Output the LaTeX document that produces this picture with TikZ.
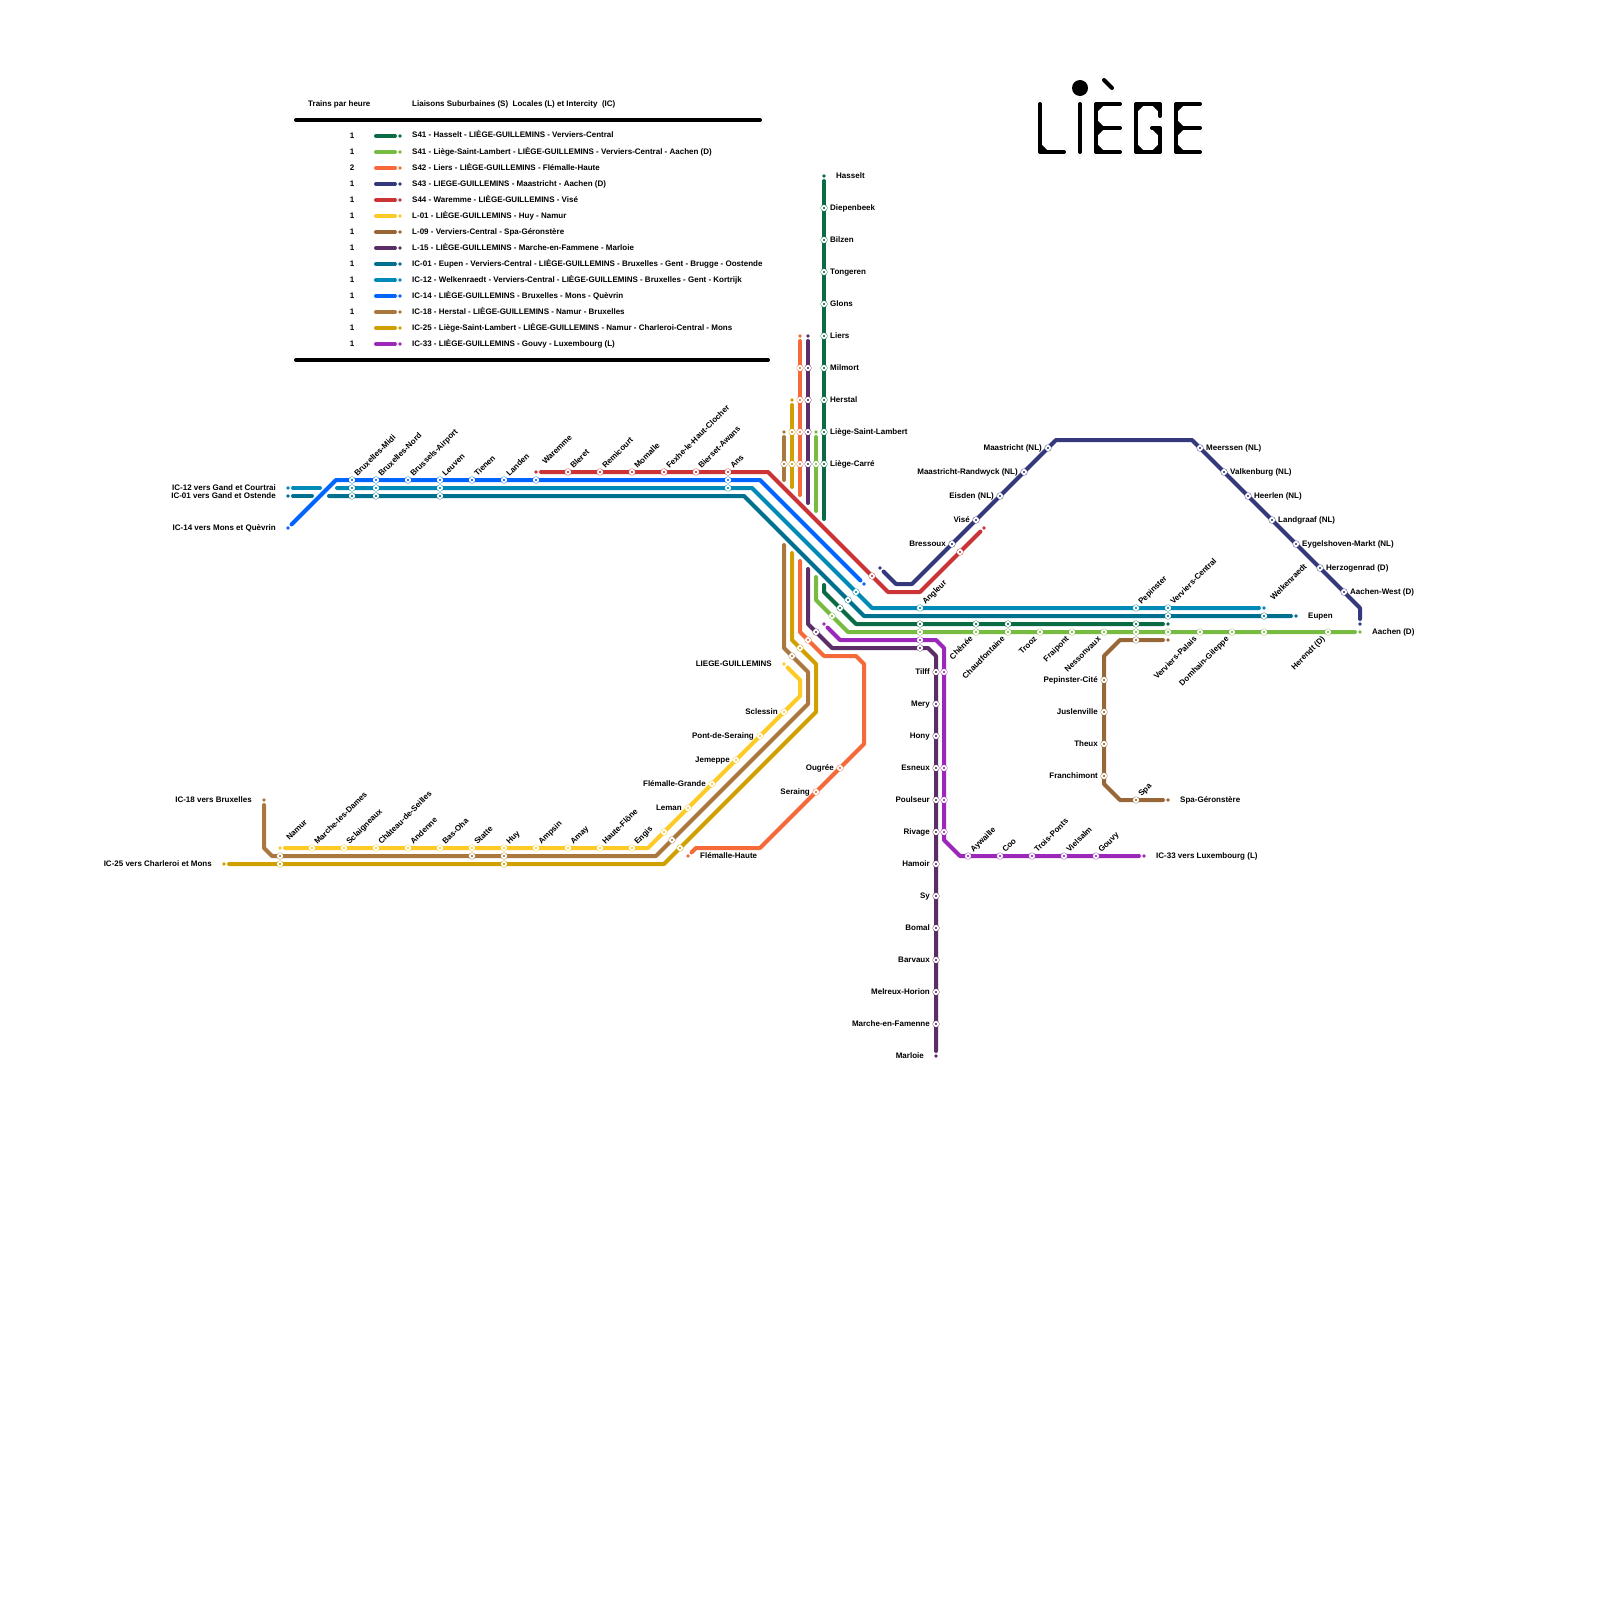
\documentclass[tikz,border=0pt]{standalone}
\usepackage{fontspec}
\setmainfont{Liberation Sans}
\usetikzlibrary{backgrounds}

\definecolor{sfourone}{HTML}{0B6B45}
\definecolor{sfourlime}{HTML}{77BB41}
\definecolor{sfourtwo}{HTML}{F56A38}
\definecolor{sfourthree}{HTML}{33397C}
\definecolor{sfourfour}{HTML}{CB3337}
\definecolor{lzeroone}{HTML}{FECB26}
\definecolor{lzeronine}{HTML}{996638}
\definecolor{lonefive}{HTML}{5C2E68}
\definecolor{iczeroone}{HTML}{00708F}
\definecolor{iconetwo}{HTML}{008AB5}
\definecolor{iconefour}{HTML}{0064FE}
\definecolor{iconeeight}{HTML}{AA783F}
\definecolor{ictwofive}{HTML}{D0A000}
\definecolor{icthreethree}{HTML}{9B28BA}

\newcommand{\mapfont}{\fontsize{8}{9.6}\selectfont\bfseries}

\tikzset{
  stn/.style={circle,inner sep=0pt,minimum size=4.2pt,fill=#1,draw=white,line width=1.8pt,preaction={draw=#1,line width=2.6pt}},
  endpt/.style={circle,inner sep=0pt,minimum size=3.6pt,fill=#1,outer sep=3.2pt},
  lne/.style={draw=#1,line width=4pt,line cap=round,line join=round},
  rule/.style={draw=black,line width=4pt,line cap=round},
  glyph/.style={draw=black,line width=4pt,line cap=round,line join=round},
  chamfer/.style={draw=black,fill=black,line width=1.6pt,line join=round},
  txt/.style={inner sep=0pt,font=\mapfont,text=black},
  txtlft/.style={txt,anchor=base west},
  lab/.style={txt,text height=5.8pt,text depth=1.7pt},
  nameR/.style={label={[lab,xshift=3pt,yshift=-.3pt]right:#1}},
  nameL/.style={label={[lab,xshift=-3pt,yshift=-.3pt]left:#1}},
  farR/.style={label={[lab,xshift=7pt,yshift=-.3pt]right:#1}},
  farL/.style={label={[lab,xshift=-7pt,yshift=-.3pt]left:#1}},
  nameU/.style={label={[lab,shift={(1.05pt,4.45pt)},rotate=45]right:#1}},
  farU/.style={label={[lab,shift={(3pt,8.45pt)},rotate=45]right:#1}},
  nameD/.style={label={[lab,shift={(-1pt,-6pt)},rotate=45]left:#1}},
}

\begin{document}
\begin{tikzpicture}[x=1pt,y=-1pt]
\useasboundingbox (0,0) rectangle (1600,1600);

% legend
\node[txtlft] (headA) at (308,106.5) {Trains par heure};
\node[txtlft] (headB) at (412,106.5) {Liaisons Suburbaines (S)~ Locales (L) et Intercity~ (IC)};
\coordinate (ruleA) at (296,120); \coordinate (ruleB) at (760,120);
\coordinate (ruleC) at (296,360); \coordinate (ruleD) at (768,360);
\draw[rule] (ruleA) -- (ruleB);
\draw[rule] (ruleC) -- (ruleD);

\node[txt] (numA) at (352,135.5) {1}; \coordinate (swA) at (376,136); \node[endpt=sfourone] (swEndA) at (400,136) {}; \draw[lne=sfourone] (swA) -- (swEndA);
\node[txtlft] (legA) at (412,138) {S41 - Hasselt - LIÈGE-GUILLEMINS - Verviers-Central};
\node[txt] (numB) at (352,151.5) {1}; \coordinate (swB) at (376,152); \node[endpt=sfourlime] (swEndB) at (400,152) {}; \draw[lne=sfourlime] (swB) -- (swEndB);
\node[txtlft] (legB) at (412,154) {S41 - Liège-Saint-Lambert - LIÈGE-GUILLEMINS - Verviers-Central - Aachen (D)};
\node[txt] (numC) at (352,167.5) {2}; \coordinate (swC) at (376,168); \node[endpt=sfourtwo] (swEndC) at (400,168) {}; \draw[lne=sfourtwo] (swC) -- (swEndC);
\node[txtlft] (legC) at (412,170) {S42 - Liers - LIÈGE-GUILLEMINS - Flémalle-Haute};
\node[txt] (numD) at (352,183.5) {1}; \coordinate (swD) at (376,184); \node[endpt=sfourthree] (swEndD) at (400,184) {}; \draw[lne=sfourthree] (swD) -- (swEndD);
\node[txtlft] (legD) at (412,186) {S43 - LIEGE-GUILLEMINS - Maastricht - Aachen (D)};
\node[txt] (numE) at (352,199.5) {1}; \coordinate (swE) at (376,200); \node[endpt=sfourfour] (swEndE) at (400,200) {}; \draw[lne=sfourfour] (swE) -- (swEndE);
\node[txtlft] (legE) at (412,202) {S44 - Waremme - LIÈGE-GUILLEMINS - Visé};
\node[txt] (numF) at (352,215.5) {1}; \coordinate (swF) at (376,216); \node[endpt=lzeroone] (swEndF) at (400,216) {}; \draw[lne=lzeroone] (swF) -- (swEndF);
\node[txtlft] (legF) at (412,218) {L-01 - LIÈGE-GUILLEMINS - Huy - Namur};
\node[txt] (numG) at (352,231.5) {1}; \coordinate (swG) at (376,232); \node[endpt=lzeronine] (swEndG) at (400,232) {}; \draw[lne=lzeronine] (swG) -- (swEndG);
\node[txtlft] (legG) at (412,234) {L-09 - Verviers-Central - Spa-Géronstère};
\node[txt] (numH) at (352,247.5) {1}; \coordinate (swH) at (376,248); \node[endpt=lonefive] (swEndH) at (400,248) {}; \draw[lne=lonefive] (swH) -- (swEndH);
\node[txtlft] (legH) at (412,250) {L-15 - LIÈGE-GUILLEMINS - Marche-en-Fammene - Marloie};
\node[txt] (numI) at (352,263.5) {1}; \coordinate (swI) at (376,264); \node[endpt=iczeroone] (swEndI) at (400,264) {}; \draw[lne=iczeroone] (swI) -- (swEndI);
\node[txtlft] (legI) at (412,266) {IC-01 - Eupen - Verviers-Central - LIÈGE-GUILLEMINS - Bruxelles - Gent - Brugge - Oostende};
\node[txt] (numJ) at (352,279.5) {1}; \coordinate (swJ) at (376,280); \node[endpt=iconetwo] (swEndJ) at (400,280) {}; \draw[lne=iconetwo] (swJ) -- (swEndJ);
\node[txtlft] (legJ) at (412,282) {IC-12 - Welkenraedt - Verviers-Central - LIÈGE-GUILLEMINS - Bruxelles - Gent - Kortrijk};
\node[txt] (numK) at (352,295.5) {1}; \coordinate (swK) at (376,296); \node[endpt=iconefour] (swEndK) at (400,296) {}; \draw[lne=iconefour] (swK) -- (swEndK);
\node[txtlft] (legK) at (412,298) {IC-14 - LIÈGE-GUILLEMINS - Bruxelles - Mons - Quèvrin};
\node[txt] (numL) at (352,311.5) {1}; \coordinate (swL) at (376,312); \node[endpt=iconeeight] (swEndL) at (400,312) {}; \draw[lne=iconeeight] (swL) -- (swEndL);
\node[txtlft] (legL) at (412,314) {IC-18 - Herstal - LIÈGE-GUILLEMINS - Namur - Bruxelles};
\node[txt] (numM) at (352,327.5) {1}; \coordinate (swM) at (376,328); \node[endpt=ictwofive] (swEndM) at (400,328) {}; \draw[lne=ictwofive] (swM) -- (swEndM);
\node[txtlft] (legM) at (412,330) {IC-25 - Liège-Saint-Lambert - LIÈGE-GUILLEMINS - Namur - Charleroi-Central - Mons};
\node[txt] (numN) at (352,343.5) {1}; \coordinate (swN) at (376,344); \node[endpt=icthreethree] (swEndN) at (400,344) {}; \draw[lne=icthreethree] (swN) -- (swEndN);
\node[txtlft] (legN) at (412,346) {IC-33 - LIÈGE-GUILLEMINS - Gouvy - Luxembourg (L)};

% title
\fill (1080,88) circle (8); % dot of the I
\draw[glyph] (1104,80) -- (1112,88); % accent
\draw[glyph] (1040,104) -- (1040,152) -- (1064,152); % L
\draw[chamfer] (1040,144) -- (1048,152) -- (1040,152) -- cycle;
\draw[glyph] (1080,104) -- (1080,152); % I
\foreach \ex in {1096,1176} { % E
  \draw[glyph] (\ex+24,104) -- (\ex,104) -- (\ex,152) -- (\ex+24,152);
  \draw[glyph] (\ex,128) -- (\ex+24,128);
  \draw[chamfer] (\ex,104) -- (\ex+8,104) -- (\ex,112) -- cycle;
  \draw[chamfer] (\ex,120) -- (\ex+8,128) -- (\ex,136) -- cycle;
  \draw[chamfer] (\ex,144) -- (\ex+8,152) -- (\ex,152) -- cycle;
}
\draw[glyph] (1160,116) -- (1160,104) -- (1136,104) -- (1136,152) -- (1160,152) -- (1160,128) -- (1152,128); % G
\draw[chamfer] (1136,104) -- (1144,104) -- (1136,112) -- cycle;
\draw[chamfer] (1136,144) -- (1144,152) -- (1136,152) -- cycle;
\draw[chamfer] (1152,104) -- (1160,104) -- (1160,112) -- cycle;
\draw[chamfer] (1152,152) -- (1160,152) -- (1160,144) -- cycle;
\draw[chamfer] (1152,128) -- (1160,128) -- (1160,136) -- cycle;

% S41 Hasselt
\node[endpt=sfourone,farR=Hasselt] (dgHasselt) at (824,176) {};
\node[stn=sfourone,nameR=Diepenbeek] (dgDiepenbeek) at (824,208) {};
\node[stn=sfourone,nameR=Bilzen] (dgBilzen) at (824,240) {};
\node[stn=sfourone,nameR=Tongeren] (dgTongeren) at (824,272) {};
\node[stn=sfourone,nameR=Glons] (dgGlons) at (824,304) {};
\node[stn=sfourone,nameR=Liers] (dgLiers) at (824,336) {};
\node[stn=sfourone,nameR=Milmort] (dgMilmort) at (824,368) {};
\node[stn=sfourone,nameR=Herstal] (dgHerstal) at (824,400) {};
\node[stn=sfourone,nameR=Liège-Saint-Lambert] (dgLambert) at (824,432) {};
\node[stn=sfourone,nameR=Liège-Carré] (dgCarre) at (824,464) {};
\node[stn=sfourone] (dgGuil) at (840,608) {};
\node[stn=sfourone] (dgAngleur) at (920,624) {};
\node[stn=sfourone] (dgChenee) at (976,624) {};
\node[stn=sfourone] (dgChaud) at (1008,624) {};
\node[stn=sfourone] (dgPepinster) at (1136,624) {};
\node[endpt=sfourone] (dgVerviers) at (1168,624) {};

% S41 Aachen
\node[endpt=sfourlime] (lmLambert) at (816,432) {};
\node[stn=sfourlime] (lmCarre) at (816,464) {};
\node[stn=sfourlime] (lmGuil) at (832,616) {};
\node[stn=sfourlime] (lmAngleur) at (920,632) {};
\node[stn=sfourlime,nameD=Chênée] (lmChenee) at (976,632) {};
\node[stn=sfourlime,nameD=Chaudfontaine] (lmChaud) at (1008,632) {};
\node[stn=sfourlime,nameD=Trooz] (lmTrooz) at (1040,632) {};
\node[stn=sfourlime,nameD=Fraipont] (lmFraipont) at (1072,632) {};
\node[stn=sfourlime,nameD=Nessonvaux] (lmNesson) at (1104,632) {};
\node[stn=sfourlime] (lmPepinster) at (1136,632) {};
\node[stn=sfourlime] (lmVerviers) at (1168,632) {};
\node[stn=sfourlime,nameD=Verviers-Palais] (lmPalais) at (1200,632) {};
\node[stn=sfourlime,nameD=Domhain-Gileppe] (lmDolhain) at (1232,632) {};
\node[stn=sfourlime] (lmWelken) at (1264,632) {};
\node[stn=sfourlime,nameD=Herendt (D)] (lmHerendt) at (1328,632) {};
\node[endpt=sfourlime,farR=Aachen (D)] (lmAachen) at (1360,632) {};

% S42
\node[endpt=sfourtwo] (orLiers) at (800,336) {};
\node[stn=sfourtwo] (orMilmort) at (800,368) {};
\node[stn=sfourtwo] (orHerstal) at (800,400) {};
\node[stn=sfourtwo] (orLambert) at (800,432) {};
\node[stn=sfourtwo] (orCarre) at (800,464) {};
\node[stn=sfourtwo] (orGuil) at (808,640) {};
\node[stn=sfourtwo,nameL=Ougrée] (orOugree) at (840,768) {};
\node[stn=sfourtwo,nameL=Seraing] (orSeraing) at (816,792) {};
\node[endpt=sfourtwo,farR=Flémalle-Haute] (orFlemalle) at (688,856) {};

% S43
\node[endpt=sfourthree] (nvGuil) at (880,568) {};
\node[stn=sfourthree,nameL=Bressoux] (nvBressoux) at (952,544) {};
\node[stn=sfourthree,nameL=Visé] (nvVise) at (976,520) {};
\node[stn=sfourthree,nameL=Eisden (NL)] (nvEisden) at (1000,496) {};
\node[stn=sfourthree,nameL=Maastricht-Randwyck (NL)] (nvRandwyck) at (1024,472) {};
\node[stn=sfourthree,nameL=Maastricht (NL)] (nvMaastricht) at (1048,448) {};
\node[stn=sfourthree,nameR=Meerssen (NL)] (nvMeerssen) at (1200,448) {};
\node[stn=sfourthree,nameR=Valkenburg (NL)] (nvValkenburg) at (1224,472) {};
\node[stn=sfourthree,nameR=Heerlen (NL)] (nvHeerlen) at (1248,496) {};
\node[stn=sfourthree,nameR=Landgraaf (NL)] (nvLandgraaf) at (1272,520) {};
\node[stn=sfourthree,nameR=Eygelshoven-Markt (NL)] (nvEygels) at (1296,544) {};
\node[stn=sfourthree,nameR=Herzogenrad (D)] (nvHerzogen) at (1320,568) {};
\node[stn=sfourthree,nameR=Aachen-West (D)] (nvWest) at (1344,592) {};
\node[endpt=sfourthree] (nvAachen) at (1360,624) {};

% S44
\node[endpt=sfourfour,farU=Waremme] (rdWaremme) at (536,472) {};
\node[stn=sfourfour,nameU=Bleret] (rdBleret) at (568,472) {};
\node[stn=sfourfour,nameU=Remicourt] (rdRemicourt) at (600,472) {};
\node[stn=sfourfour,nameU=Momalle] (rdMomalle) at (632,472) {};
\node[stn=sfourfour,nameU=Fexhe-le-Haut-Clocher] (rdFexhe) at (664,472) {};
\node[stn=sfourfour,nameU=Bierset-Awans] (rdBierset) at (696,472) {};
\node[stn=sfourfour,nameU=Ans] (rdAns) at (728,472) {};
\node[stn=sfourfour] (rdGuil) at (872,576) {};
\node[stn=sfourfour] (rdBressoux) at (960,552) {};
\node[endpt=sfourfour] (rdVise) at (984,528) {};

% L-01
\node[endpt=lzeroone,farL=LIEGE-GUILLEMINS] (yeGuil) at (784,664) {};
\node[stn=lzeroone,nameL=Sclessin] (yeSclessin) at (784,712) {};
\node[stn=lzeroone,nameL=Pont-de-Seraing] (yePont) at (760,736) {};
\node[stn=lzeroone,nameL=Jemeppe] (yeJemeppe) at (736,760) {};
\node[stn=lzeroone,nameL=Flémalle-Grande] (yeFlemalle) at (712,784) {};
\node[stn=lzeroone,nameL=Leman] (yeLeman) at (688,808) {};
\node[stn=lzeroone] (yeUnn) at (664,832) {};
\node[stn=lzeroone,nameU=Engis] (yeEngis) at (632,848) {};
\node[stn=lzeroone,nameU=Haute-Flône] (yeFlone) at (600,848) {};
\node[stn=lzeroone,nameU=Amay] (yeAmay) at (568,848) {};
\node[stn=lzeroone,nameU=Ampsin] (yeAmpsin) at (536,848) {};
\node[stn=lzeroone,nameU=Huy] (yeHuy) at (504,848) {};
\node[stn=lzeroone,nameU=Statte] (yeStatte) at (472,848) {};
\node[stn=lzeroone,nameU=Bas-Oha] (yeBasOha) at (440,848) {};
\node[stn=lzeroone,nameU=Andenne] (yeAndenne) at (408,848) {};
\node[stn=lzeroone,nameU=Château-de-Seilles] (yeSeilles) at (376,848) {};
\node[stn=lzeroone,nameU=Sclaigneaux] (yeSclaign) at (344,848) {};
\node[stn=lzeroone,nameU=Marche-les-Dames] (yeDames) at (312,848) {};
\node[endpt=lzeroone,farU=Namur] (yeNamur) at (280,848) {};

% L-09
\node[endpt=lzeronine] (brVerviers) at (1168,640) {};
\node[stn=lzeronine] (brPepinster) at (1136,640) {};
\node[stn=lzeronine,nameL=Pepinster-Cité] (brCite) at (1104,680) {};
\node[stn=lzeronine,nameL=Juslenville] (brJuslen) at (1104,712) {};
\node[stn=lzeronine,nameL=Theux] (brTheux) at (1104,744) {};
\node[stn=lzeronine,nameL=Franchimont] (brFranch) at (1104,776) {};
\node[stn=lzeronine,nameU=Spa] (brSpa) at (1136,800) {};
\node[endpt=lzeronine,farR=Spa-Géronstère] (brGeron) at (1168,800) {};

% L-15
\node[endpt=lonefive] (puLiers) at (808,336) {};
\node[stn=lonefive] (puMilmort) at (808,368) {};
\node[stn=lonefive] (puHerstal) at (808,400) {};
\node[stn=lonefive] (puLambert) at (808,432) {};
\node[stn=lonefive] (puCarre) at (808,464) {};
\node[stn=lonefive] (puGuil) at (816,632) {};
\node[stn=lonefive] (puAngleur) at (920,648) {};
\node[stn=lonefive,nameL=Tilff] (puTilff) at (936,672) {};
\node[stn=lonefive,nameL=Mery] (puMery) at (936,704) {};
\node[stn=lonefive,nameL=Hony] (puHony) at (936,736) {};
\node[stn=lonefive,nameL=Esneux] (puEsneux) at (936,768) {};
\node[stn=lonefive,nameL=Poulseur] (puPoulseur) at (936,800) {};
\node[stn=lonefive,nameL=Rivage] (puRivage) at (936,832) {};
\node[stn=lonefive,nameL=Hamoir] (puHamoir) at (936,864) {};
\node[stn=lonefive,nameL=Sy] (puSy) at (936,896) {};
\node[stn=lonefive,nameL=Bomal] (puBomal) at (936,928) {};
\node[stn=lonefive,nameL=Barvaux] (puBarvaux) at (936,960) {};
\node[stn=lonefive,nameL=Melreux-Horion] (puMelreux) at (936,992) {};
\node[stn=lonefive,nameL=Marche-en-Famenne] (puMarche) at (936,1024) {};
\node[endpt=lonefive,farL=Marloie] (puMarloie) at (936,1056) {};

% IC-01
\node[endpt=iczeroone,farL=IC-01 vers Gand et Ostende] (tlOstende) at (288,496) {};
\node[stn=iczeroone] (tlMidi) at (352,496) {};
\node[stn=iczeroone] (tlNord) at (376,496) {};
\node[stn=iczeroone] (tlLeuven) at (440,496) {};
\node[stn=iczeroone] (tlGuil) at (848,600) {};
\node[stn=iczeroone] (tlVerviers) at (1168,616) {};
\node[stn=iczeroone] (tlWelken) at (1264,616) {};
\node[endpt=iczeroone,farR=Eupen] (tlEupen) at (1296,616) {};

% IC-12
\node[endpt=iconetwo,farL=IC-12 vers Gand et Courtrai] (cyCourtrai) at (288,488) {};
\node[stn=iconetwo] (cyMidi) at (352,488) {};
\node[stn=iconetwo] (cyNord) at (376,488) {};
\node[stn=iconetwo] (cyLeuven) at (440,488) {};
\node[stn=iconetwo] (cyAns) at (728,488) {};
\node[stn=iconetwo] (cyGuil) at (856,592) {};
\node[stn=iconetwo,nameU=Angleur] (cyAngleur) at (920,608) {};
\node[stn=iconetwo,nameU=Pepinster] (cyPepinster) at (1136,608) {};
\node[stn=iconetwo,nameU=Verviers-Central] (cyVerviers) at (1168,608) {};
\node[endpt=iconetwo,farU=Welkenraedt] (cyWelken) at (1264,608) {};

% IC-14
\node[endpt=iconefour,farL=IC-14 vers Mons et Quèvrin] (blMons) at (288,528) {};
\node[stn=iconefour,nameU=Bruxelles-Midi] (blMidi) at (352,480) {};
\node[stn=iconefour,nameU=Bruxelles-Nord] (blNord) at (376,480) {};
\node[stn=iconefour,nameU=Brussels-Airport] (blAirport) at (408,480) {};
\node[stn=iconefour,nameU=Leuven] (blLeuven) at (440,480) {};
\node[stn=iconefour,nameU=Tienen] (blTienen) at (472,480) {};
\node[stn=iconefour,nameU=Landen] (blLanden) at (504,480) {};
\node[stn=iconefour] (blWaremme) at (536,480) {};
\node[stn=iconefour] (blAns) at (728,480) {};
\node[endpt=iconefour] (blGuil) at (864,584) {};

% IC-18
\node[endpt=iconeeight] (tnLambert) at (784,432) {};
\node[stn=iconeeight] (tnCarre) at (784,464) {};
\node[stn=iconeeight] (tnGuil) at (792,656) {};
\node[stn=iconeeight] (tnUnn) at (672,840) {};
\node[stn=iconeeight] (tnHuy) at (504,856) {};
\node[stn=iconeeight] (tnStatte) at (472,856) {};
\node[stn=iconeeight] (tnNamur) at (280,856) {};
\node[endpt=iconeeight,farL=IC-18 vers Bruxelles] (tnBrux) at (264,800) {};

% IC-25
\node[endpt=ictwofive] (goHerstal) at (792,400) {};
\node[stn=ictwofive] (goLambert) at (792,432) {};
\node[stn=ictwofive] (goCarre) at (792,464) {};
\node[stn=ictwofive] (goGuil) at (800,648) {};
\node[stn=ictwofive] (goUnn) at (680,848) {};
\node[stn=ictwofive] (goHuy) at (504,864) {};
\node[stn=ictwofive] (goNamur) at (280,864) {};
\node[endpt=ictwofive,farL=IC-25 vers Charleroi et Mons] (goMons) at (224,864) {};

% IC-33
\node[endpt=icthreethree] (vlGuil) at (824,624) {};
\node[stn=icthreethree] (vlAngleur) at (920,640) {};
\node[stn=icthreethree] (vlTilff) at (944,672) {};
\node[stn=icthreethree] (vlEsneux) at (944,768) {};
\node[stn=icthreethree] (vlPoulseur) at (944,800) {};
\node[stn=icthreethree] (vlRivage) at (944,832) {};
\node[stn=icthreethree,nameU=Aywaille] (vlAywaille) at (968,856) {};
\node[stn=icthreethree,nameU=Coo] (vlCoo) at (1000,856) {};
\node[stn=icthreethree,nameU=Trois-Ponts] (vlTrois) at (1032,856) {};
\node[stn=icthreethree,nameU=Vielsalm] (vlVielsalm) at (1064,856) {};
\node[stn=icthreethree,nameU=Gouvy] (vlGouvy) at (1096,856) {};
\node[endpt=icthreethree,farR=IC-33 vers Luxembourg (L)] (vlLux) at (1144,856) {};

% bends and free ends
\coordinate (dgEndA) at (824,519); \coordinate (dgEndB) at (824,585); \coordinate (dgB1) at (824,592); \coordinate (dgB2) at (856,624);
\coordinate (lmEndA) at (816,511); \coordinate (lmEndB) at (816,577); \coordinate (lmB1) at (816,600); \coordinate (lmB2) at (848,632);
\coordinate (orEndA) at (800,495); \coordinate (orEndB) at (800,561); \coordinate (orB1) at (800,632); \coordinate (orB2) at (824,656);
\coordinate (orB3) at (856,656); \coordinate (orB4) at (864,664); \coordinate (orB5) at (864,744); \coordinate (orB6) at (760,848); \coordinate (orB7) at (696,848);
\coordinate (nvB1) at (896,584); \coordinate (nvB2) at (912,584); \coordinate (nvB3) at (1056,440); \coordinate (nvB4) at (1192,440); \coordinate (nvB5) at (1360,608);
\coordinate (rdB1) at (768,472); \coordinate (rdB2) at (888,592); \coordinate (rdB3) at (920,592);
\coordinate (yeB1) at (800,680); \coordinate (yeB2) at (800,696); \coordinate (yeB3) at (648,848);
\coordinate (brB1) at (1120,640); \coordinate (brB2) at (1104,656); \coordinate (brB3) at (1104,784); \coordinate (brB4) at (1120,800);
\coordinate (puEndA) at (808,503); \coordinate (puEndB) at (808,569); \coordinate (puB1) at (808,624); \coordinate (puB2) at (832,648); \coordinate (puB3) at (928,648); \coordinate (puB4) at (936,656);
\coordinate (tlEndA) at (312,496); \coordinate (tlEndB) at (329,496); \coordinate (tlB1) at (744,496); \coordinate (tlB2) at (864,616);
\coordinate (cyEndA) at (320,488); \coordinate (cyEndB) at (337,488); \coordinate (cyB1) at (752,488); \coordinate (cyB2) at (872,608);
\coordinate (blB1) at (336,480); \coordinate (blB2) at (760,480);
\coordinate (tnEndA) at (784,480); \coordinate (tnEndB) at (784,545); \coordinate (tnB1) at (784,648); \coordinate (tnB2) at (808,672); \coordinate (tnB3) at (808,704); \coordinate (tnB4) at (656,856); \coordinate (tnB5) at (272,856); \coordinate (tnB6) at (264,848);
\coordinate (goEndA) at (792,487); \coordinate (goEndB) at (792,553); \coordinate (goB1) at (792,640); \coordinate (goB2) at (816,664); \coordinate (goB3) at (816,712); \coordinate (goB4) at (664,864);
\coordinate (vlB1) at (840,640); \coordinate (vlB2) at (936,640); \coordinate (vlB3) at (944,648); \coordinate (vlB4) at (944,840); \coordinate (vlB5) at (960,856);

\begin{pgfonlayer}{background}
% the lines, under their stations
\draw[lne=sfourone] (dgHasselt) -- (dgDiepenbeek) -- (dgBilzen) -- (dgTongeren) -- (dgGlons) -- (dgLiers) -- (dgMilmort) -- (dgHerstal) -- (dgLambert) -- (dgCarre) -- (dgEndA);
\draw[lne=sfourone] (dgEndB) -- (dgB1) -- (dgGuil) -- (dgB2) -- (dgAngleur) -- (dgChenee) -- (dgChaud) -- (dgPepinster) -- (dgVerviers);
\draw[lne=sfourlime] (lmLambert) -- (lmCarre) -- (lmEndA);
\draw[lne=sfourlime] (lmEndB) -- (lmB1) -- (lmGuil) -- (lmB2) -- (lmAngleur) -- (lmChenee) -- (lmChaud) -- (lmTrooz) -- (lmFraipont) -- (lmNesson) -- (lmPepinster) -- (lmVerviers) -- (lmPalais) -- (lmDolhain) -- (lmWelken) -- (lmHerendt) -- (lmAachen);
\draw[lne=sfourtwo] (orLiers) -- (orMilmort) -- (orHerstal) -- (orLambert) -- (orCarre) -- (orEndA);
\draw[lne=sfourtwo] (orEndB) -- (orB1) -- (orGuil) -- (orB2) -- (orB3) -- (orB4) -- (orB5) -- (orOugree) -- (orSeraing) -- (orB6) -- (orB7) -- (orFlemalle);
\draw[lne=sfourthree] (nvGuil) -- (nvB1) -- (nvB2) -- (nvBressoux) -- (nvVise) -- (nvEisden) -- (nvRandwyck) -- (nvMaastricht) -- (nvB3) -- (nvB4) -- (nvMeerssen) -- (nvValkenburg) -- (nvHeerlen) -- (nvLandgraaf) -- (nvEygels) -- (nvHerzogen) -- (nvWest) -- (nvB5) -- (nvAachen);
\draw[lne=sfourfour] (rdWaremme) -- (rdBleret) -- (rdRemicourt) -- (rdMomalle) -- (rdFexhe) -- (rdBierset) -- (rdAns) -- (rdB1) -- (rdGuil) -- (rdB2) -- (rdB3) -- (rdBressoux) -- (rdVise);
\draw[lne=lzeroone] (yeGuil) -- (yeB1) -- (yeB2) -- (yeSclessin) -- (yePont) -- (yeJemeppe) -- (yeFlemalle) -- (yeLeman) -- (yeUnn) -- (yeB3) -- (yeEngis) -- (yeFlone) -- (yeAmay) -- (yeAmpsin) -- (yeHuy) -- (yeStatte) -- (yeBasOha) -- (yeAndenne) -- (yeSeilles) -- (yeSclaign) -- (yeDames) -- (yeNamur);
\draw[lne=lzeronine] (brVerviers) -- (brPepinster) -- (brB1) -- (brB2) -- (brCite) -- (brJuslen) -- (brTheux) -- (brFranch) -- (brB3) -- (brB4) -- (brSpa) -- (brGeron);
\draw[lne=lonefive] (puLiers) -- (puMilmort) -- (puHerstal) -- (puLambert) -- (puCarre) -- (puEndA);
\draw[lne=lonefive] (puEndB) -- (puB1) -- (puGuil) -- (puB2) -- (puAngleur) -- (puB3) -- (puB4) -- (puTilff) -- (puMery) -- (puHony) -- (puEsneux) -- (puPoulseur) -- (puRivage) -- (puHamoir) -- (puSy) -- (puBomal) -- (puBarvaux) -- (puMelreux) -- (puMarche) -- (puMarloie);
\draw[lne=iczeroone] (tlOstende) -- (tlEndA);
\draw[lne=iczeroone] (tlEndB) -- (tlMidi) -- (tlNord) -- (tlLeuven) -- (tlB1) -- (tlGuil) -- (tlB2) -- (tlVerviers) -- (tlWelken) -- (tlEupen);
\draw[lne=iconetwo] (cyCourtrai) -- (cyEndA);
\draw[lne=iconetwo] (cyEndB) -- (cyMidi) -- (cyNord) -- (cyLeuven) -- (cyAns) -- (cyB1) -- (cyGuil) -- (cyB2) -- (cyAngleur) -- (cyPepinster) -- (cyVerviers) -- (cyWelken);
\draw[lne=iconefour] (blMons) -- (blB1) -- (blMidi) -- (blNord) -- (blAirport) -- (blLeuven) -- (blTienen) -- (blLanden) -- (blWaremme) -- (blAns) -- (blB2) -- (blGuil);
\draw[lne=iconeeight] (tnLambert) -- (tnCarre) -- (tnEndA);
\draw[lne=iconeeight] (tnEndB) -- (tnB1) -- (tnGuil) -- (tnB2) -- (tnB3) -- (tnUnn) -- (tnB4) -- (tnHuy) -- (tnStatte) -- (tnNamur) -- (tnB5) -- (tnB6) -- (tnBrux);
\draw[lne=ictwofive] (goHerstal) -- (goLambert) -- (goCarre) -- (goEndA);
\draw[lne=ictwofive] (goEndB) -- (goB1) -- (goGuil) -- (goB2) -- (goB3) -- (goUnn) -- (goB4) -- (goHuy) -- (goNamur) -- (goMons);
\draw[lne=icthreethree] (vlGuil) -- (vlB1) -- (vlAngleur) -- (vlB2) -- (vlB3) -- (vlTilff) -- (vlEsneux) -- (vlPoulseur) -- (vlRivage) -- (vlB4) -- (vlB5) -- (vlAywaille) -- (vlCoo) -- (vlTrois) -- (vlVielsalm) -- (vlGouvy) -- (vlLux);
\end{pgfonlayer}
\end{tikzpicture}
\end{document}
